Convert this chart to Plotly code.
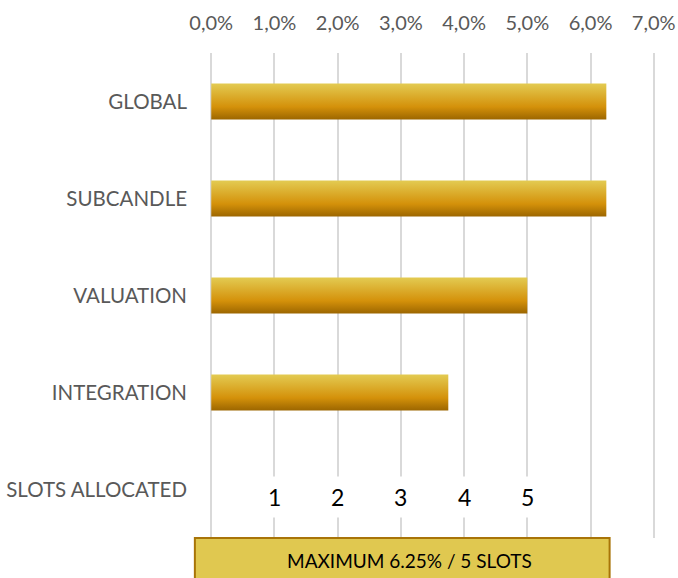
import plotly.graph_objects as go

categories = ["GLOBAL", "SUBCANDLE", "VALUATION", "INTEGRATION", "SLOTS ALLOCATED"]
values_pct = [6.25, 6.25, 5.0, 3.75]
slot_positions = [1, 2, 3, 4, 5]
slot_labels = ["1", "2", "3", "4", "5"]
x_ticks = [0, 1, 2, 3, 4, 5, 6, 7]
x_tick_labels = ["0,0%", "1,0%", "2,0%", "3,0%", "4,0%", "5,0%", "6,0%", "7,0%"]
box_text = "MAXIMUM 6.25% / 5 SLOTS"

FONT = "Lato"
HALF = 0.186
grad = [[0.0, "#9C6600"], [0.35, "#D4910A"], [1.0, "#E3CB52"]]

fig = go.Figure()
for i, v in enumerate(values_pct):
    fig.add_trace(go.Scatter(
        x=[0, v, v, 0, 0],
        y=[i - HALF, i - HALF, i + HALF, i + HALF, i - HALF],
        mode="none", fill="toself",
        fillgradient=dict(type="vertical", colorscale=grad),
        hoverinfo="skip", showlegend=False,
    ))

for xs, t in zip(slot_positions, slot_labels):
    fig.add_annotation(x=xs, y=len(categories) - 1, text=t, showarrow=False,
                       font=dict(family=FONT, size=23, color="#000000"),
                       bgcolor="#FFFFFF", borderpad=6, yshift=-7)

fig.add_shape(type="rect", xref="paper", yref="paper", x0=-0.034, x1=0.898, y0=0, y1=-0.2,
              fillcolor="#E0C850", line=dict(color="#A87408", width=2), layer="above")
fig.add_annotation(xref="x", yref="paper", x=3.14, y=0, yshift=-22, yanchor="middle",
                   text=box_text, showarrow=False,
                   font=dict(family=FONT, size=19, color="#000000"))

fig.update_layout(
    width=678, height=578,
    margin=dict(l=210, r=23, t=53, b=40),
    paper_bgcolor="white", plot_bgcolor="white",
    font=dict(family=FONT, color="#595959"),
    xaxis=dict(side="top", range=[-0.02, 7.02], tickvals=x_ticks, ticktext=x_tick_labels,
               showgrid=True, gridcolor="#D9D9D9", gridwidth=1.5, zeroline=False,
               showline=False, ticks="", ticklabelstandoff=18, automargin=False,
               tickfont=dict(family=FONT, size=20, color="#595959"), fixedrange=True),
    yaxis=dict(range=[len(categories) - 0.5, -0.5], tickvals=list(range(len(categories))),
               ticktext=categories, showgrid=False, zeroline=False, showline=False,
               ticks="", ticklabelstandoff=22, automargin=False,
               tickfont=dict(family=FONT, size=20.5, color="#595959"), fixedrange=True),
)

fig.write_html("out.html", config={"displayModeBar": False},
               post_script="document.body.style.margin='0';document.body.style.overflow='hidden';")
